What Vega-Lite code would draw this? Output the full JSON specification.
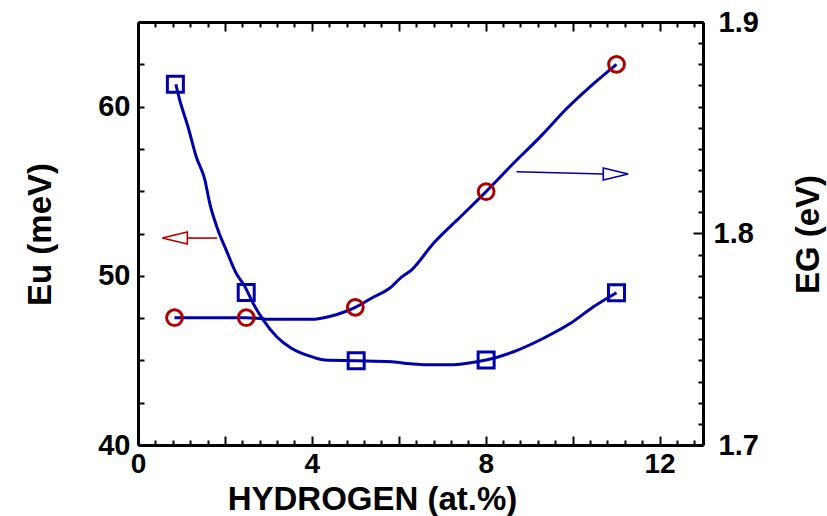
{
  "$schema": "https://vega.github.io/schema/vega-lite/v6.json",
  "autosize": "none",
  "width": 565,
  "height": 423,
  "padding": {"left": 138, "top": 22, "right": 124, "bottom": 71},
  "background": "white",
  "view": {"stroke": null},
  "config": {
    "font": "Liberation Sans",
    "axis": {
      "grid": false,
      "domainColor": "black",
      "domainWidth": 3,
      "tickColor": "black",
      "tickWidth": 2,
      "labelFont": "Liberation Sans",
      "labelFontWeight": "bold",
      "labelFontSize": 29,
      "labelColor": "black",
      "titleFont": "Liberation Sans",
      "titleFontWeight": "bold",
      "titleFontSize": 33,
      "titleColor": "black"
    }
  },
  "datasets": {
    "euCurve": [
      {"x": 0.87, "y": 61.32}, {"x": 0.96, "y": 60.39}, {"x": 1.15, "y": 58.81}, {"x": 1.34, "y": 57.04},
      {"x": 1.54, "y": 55.66}, {"x": 1.65, "y": 54.29}, {"x": 1.84, "y": 52.71}, {"x": 2.03, "y": 51.52},
      {"x": 2.26, "y": 50.15}, {"x": 2.46, "y": 49.36}, {"x": 2.65, "y": 48.37}, {"x": 2.88, "y": 47.39},
      {"x": 3.19, "y": 46.4}, {"x": 3.53, "y": 45.72}, {"x": 3.99, "y": 45.22}, {"x": 4.3, "y": 45.02},
      {"x": 5.03, "y": 44.98}, {"x": 5.83, "y": 44.92}, {"x": 6.14, "y": 44.83}, {"x": 6.57, "y": 44.75},
      {"x": 7.26, "y": 44.75}, {"x": 7.8, "y": 44.92}, {"x": 8.01, "y": 45.02}, {"x": 8.64, "y": 45.51},
      {"x": 9.33, "y": 46.31}, {"x": 9.95, "y": 47.19}, {"x": 10.48, "y": 48.17}, {"x": 11.01, "y": 49.0}
    ],
    "euPts": [
      {"x": 0.86, "y": 61.32}, {"x": 2.49, "y": 49.02}, {"x": 5.02, "y": 44.98}, {"x": 8.01, "y": 45.02}, {"x": 11.01, "y": 49.0}
    ],
    "egCurve": [
      {"x": 0.84, "y": 1.7602}, {"x": 2.49, "y": 1.7602}, {"x": 3.07, "y": 1.7594}, {"x": 3.99, "y": 1.7594},
      {"x": 4.45, "y": 1.761}, {"x": 4.76, "y": 1.763}, {"x": 5.0, "y": 1.7651}, {"x": 5.37, "y": 1.7694},
      {"x": 5.83, "y": 1.7748}, {"x": 6.03, "y": 1.7788}, {"x": 6.29, "y": 1.7827}, {"x": 6.8, "y": 1.7954},
      {"x": 7.42, "y": 1.8079}, {"x": 8.01, "y": 1.8198}, {"x": 8.64, "y": 1.8332}, {"x": 9.26, "y": 1.8458},
      {"x": 9.87, "y": 1.8592}, {"x": 10.49, "y": 1.871}, {"x": 11.01, "y": 1.88}
    ],
    "egPts": [
      {"x": 0.84, "y": 1.7602}, {"x": 2.49, "y": 1.7602}, {"x": 5.0, "y": 1.7651}, {"x": 8.01, "y": 1.8198}, {"x": 11.01, "y": 1.88}
    ],
    "arrows": [
      {"dir": "left", "x0": 1.135, "x1": 1.82, "y0": 52.23, "y1": 52.23, "tipx": 0.56, "tipy": 52.23},
      {"dir": "right", "x0": 8.71, "x1": 10.72, "y0": 56.15, "y1": 56.02, "tipx": 11.28, "tipy": 56.02}
    ]
  },
  "layer": [
    {
      "data": {"name": "euCurve"},
      "mark": {"type": "line", "color": "#0000a8", "strokeWidth": 3, "interpolate": "monotone"},
      "encoding": {
        "x": {
          "field": "x", "type": "quantitative",
          "scale": {"domain": [0, 13], "nice": false, "zero": false},
          "axis": {
            "orient": "bottom",
            "title": "HYDROGEN (at.%)",
            "values": [0,0.4,0.8,1.2,1.6,2,2.4,2.8,3.2,3.6,4,4.4,4.8,5.2,5.6,6,6.4,6.8,7.2,7.6,8,8.4,8.8,9.2,9.6,10,10.4,10.8,11.2,11.6,12,12.4,12.8],
            "labelExpr": "datum.value % 4 == 0 ? format(datum.value, 'd') : ''",
            "tickSize": {"condition": {"test": "datum.value % 2 == 0", "value": -9}, "value": -5},
            "labelPadding": 14,
            "labelFontSize": 28,
            "labelFlush": false,
            "labelOverlap": false,
            "titleX": 234,
            "titleY": 64,
            "titleAnchor": null,
            "titleAlign": "center",
            "titleBaseline": "alphabetic"
          }
        },
        "y": {
          "field": "y", "type": "quantitative",
          "scale": {"domain": [40, 65], "nice": false, "zero": false},
          "axis": {
            "orient": "left",
            "title": "Eu (meV)",
            "values": [40,42.5,45,47.5,50,52.5,55,57.5,60,62.5,65],
            "labelExpr": "datum.value % 10 == 0 ? datum.label : ''",
            "tickSize": -6,
            "labelPadding": 14,
            "labelFlush": false,
            "labelOverlap": false,
            "titleAngle": 270,
            "titleX": -88,
            "titleY": 212,
            "titleAlign": "center",
            "titleBaseline": "alphabetic"
          }
        }
      }
    },
    {
      "data": {"name": "egCurve"},
      "mark": {"type": "line", "color": "#0000a8", "strokeWidth": 3, "interpolate": "monotone"},
      "encoding": {
        "x": {
          "field": "x", "type": "quantitative",
          "scale": {"domain": [0, 13], "nice": false, "zero": false},
          "axis": {
            "orient": "top",
            "title": null,
            "labels": false,
            "values": [0,0.4,0.8,1.2,1.6,2,2.4,2.8,3.2,3.6,4,4.4,4.8,5.2,5.6,6,6.4,6.8,7.2,7.6,8,8.4,8.8,9.2,9.6,10,10.4,10.8,11.2,11.6,12,12.4,12.8],
            "tickSize": {"condition": {"test": "datum.value % 2 == 0", "value": -9}, "value": -5}
          }
        },
        "y": {
          "field": "y", "type": "quantitative",
          "scale": {"domain": [1.7, 1.9], "nice": false, "zero": false},
          "axis": {
            "orient": "right",
            "title": "EG (eV)",
            "values": [1.7,1.71,1.72,1.73,1.74,1.75,1.76,1.77,1.78,1.79,1.8,1.81,1.82,1.83,1.84,1.85,1.86,1.87,1.88,1.89,1.9],
            "labelExpr": "(datum.value == 1.7 || datum.value == 1.8 || datum.value == 1.9) ? format(datum.value, '.1f') : ''",
            "tickSize": {"condition": {"test": "datum.value == 1.8", "value": -10}, "value": -5},
            "labelPadding": 20,
            "labelFlush": false,
            "labelOverlap": false,
            "titleAngle": 270,
            "titleX": 115,
            "titleY": 212,
            "titleAlign": "center",
            "titleBaseline": "alphabetic"
          }
        }
      }
    },
    {
      "data": {"name": "euPts"},
      "mark": {"type": "point", "shape": "square", "filled": false, "color": "#0000aa", "strokeWidth": 3, "size": 256, "opacity": 1},
      "encoding": {
        "x": {"field": "x", "type": "quantitative", "scale": {"domain": [0, 13], "nice": false, "zero": false}, "axis": null},
        "y": {"field": "y", "type": "quantitative", "scale": {"domain": [40, 65], "nice": false, "zero": false}, "axis": null}
      }
    },
    {
      "data": {"name": "egPts"},
      "mark": {"type": "point", "shape": "circle", "filled": false, "color": "#aa0000", "strokeWidth": 3, "size": 250, "opacity": 1},
      "encoding": {
        "x": {"field": "x", "type": "quantitative", "scale": {"domain": [0, 13], "nice": false, "zero": false}, "axis": null},
        "y": {"field": "y", "type": "quantitative", "scale": {"domain": [1.7, 1.9], "nice": false, "zero": false}, "axis": null}
      }
    },
    {
      "data": {"name": "arrows"},
      "mark": {"type": "rule", "strokeWidth": 1.6},
      "encoding": {
        "x": {"field": "x0", "type": "quantitative", "scale": {"domain": [0, 13], "nice": false, "zero": false}, "axis": null},
        "x2": {"field": "x1"},
        "y": {"field": "y0", "type": "quantitative", "scale": {"domain": [40, 65], "nice": false, "zero": false}, "axis": null},
        "y2": {"field": "y1"},
        "color": {"field": "dir", "type": "nominal", "scale": {"domain": ["left", "right"], "range": ["#b00000", "#0000aa"]}, "legend": null}
      }
    },
    {
      "data": {"name": "arrows"},
      "mark": {"type": "point", "filled": false, "strokeWidth": 1.6, "size": 625, "opacity": 1},
      "encoding": {
        "x": {"field": "tipx", "type": "quantitative", "scale": {"domain": [0, 13], "nice": false, "zero": false}, "axis": null},
        "y": {"field": "tipy", "type": "quantitative", "scale": {"domain": [40, 65], "nice": false, "zero": false}, "axis": null},
        "shape": {"field": "dir", "type": "nominal", "scale": {"domain": ["left", "right"], "range": ["M0,0L2,-0.48L2,0.48Z", "M0,0L-2,-0.48L-2,0.48Z"]}, "legend": null},
        "color": {"field": "dir", "type": "nominal", "scale": {"domain": ["left", "right"], "range": ["#b00000", "#0000aa"]}, "legend": null}
      }
    }
  ],
  "resolve": {
    "scale": {"y": "independent", "color": "shared", "shape": "independent"},
    "axis": {"x": "independent", "y": "independent"}
  }
}
